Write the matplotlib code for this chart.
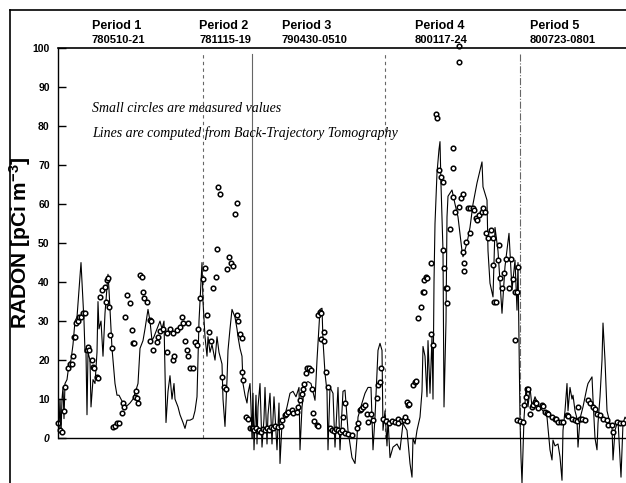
import matplotlib.pyplot as plt
from matplotlib.lines import Line2D

# time axis is an arbitrary sample index running through the five periods
line_t = [0, 1, 2, 3, 4, 5, 6, 7, 9, 11, 13, 15, 17, 19, 21, 23, 24, 26, 27, 28, 29, 30, 32, 33, 35, 37,
          39, 40, 41, 43, 45, 47, 50, 51, 54, 57, 59, 61, 63, 65, 67, 70, 72, 75, 77, 80, 82, 85, 87, 90,
          92, 94, 96, 99, 102, 104, 106, 108, 110, 112, 114, 116, 117, 120, 122, 125, 127, 129, 132, 135,
          137, 139, 141, 142, 144, 145,
          147, 149, 150, 152, 154, 157, 159, 161, 162, 164, 165, 167, 169, 170, 172, 174, 177, 179, 180,
          182, 184, 185, 187, 189, 190, 192, 193, 194,
          195, 196, 198, 199, 200, 202, 204, 206, 207, 209, 210, 212, 214, 215, 216, 219, 220, 221, 222,
          224, 226, 229, 232, 235, 238, 241, 242, 244, 247, 250, 253, 257, 259, 262, 264, 265, 267, 269,
          270, 272, 275, 277, 280, 282, 285, 287, 290, 294, 297, 299, 300, 304, 307, 310, 313, 315, 317,
          320, 322, 324, 325, 327,
          329, 330, 332, 335, 339, 342, 345, 349, 352, 354, 355, 357, 359, 362, 364, 365, 367, 369, 370,
          372, 374, 375, 376, 377, 379, 381, 382, 383, 385, 386, 388, 389, 390, 394, 397, 400, 404, 405,
          409, 412, 415, 419, 424, 425, 429, 430, 432, 435, 437, 440, 444, 447, 451, 454, 457, 459, 460,
          461, 462, 463, 464, 466,
          468, 470, 472, 474, 477, 481, 485, 489, 492, 494, 495, 497, 500, 502, 504, 505, 507, 509, 510,
          512, 514, 515, 517, 519, 520, 522, 525, 529, 530, 534, 535, 537, 539, 540, 542, 544, 545, 547,
          549, 552, 554, 555, 557, 560, 563, 565, 567, 568]
line_v = [10, 2, 10, 1, 10, 13, 5, 14, 15, 19, 20, 24, 30, 31, 38, 45, 40, 30, 22, 22, 6, 22, 20, 8, 15, 14,
          22, 35, 28, 30, 21, 32, 42, 38, 23, 14, 11, 11, 10, 9, 8, 8.5, 9, 10, 11.5, 14, 23, 25, 28, 33,
          30, 25, 26, 28, 30, 28, 30, 4, 12, 16, 10, 14, 10, 8, 6, 4, 2.5, 4.6, 4.6, 5,
          7, 10.6, 30, 35, 45, 35,
          26, 21, 26, 22, 24, 20, 26, 22, 21, 19, 10, 3, 15, 22.5, 28, 33, 31, 28, 26,
          23, 21, 14, 11, 9, 11.5, 14, 8, 0,
          11.5, -3, 11, -1.5, 8, 14, -2.3, 5, 13, -1.5, 6, 11.5, -1.5, 5, 10.6, -3, 3, 9, -6.5,
          3.8, 5, 8, 11.5, 12, 10.6, 13, -3, 8, 14, 14.5, 14, 9.7, 20, 33, 33.3, 25, 16.6, 12,
          -3, 13, 11.5, -2.3, 13, -3, 12, 12.3, 2, -5, -6.5, 0, 5.4, 9, 11.5, 13, 13, -3, 5.4,
          22.5, 24.3, 22.5, 2, 7,
          -2, 5, -5, -2.3, -1.5, -3, 3.8, 2, -6.5, -10, 0, -1.5, 2, 5.4, 12, 23.5, 21, 10.6, 25,
          11.5, 26, 10, 40, 55, 68, 74, 76, 65, 48, 8, 30, 56.7, 62, 63.6, 60, 56.7, 48, 46.5,
          50, 54, 60, 65.4, 70.8, 64.4, 61, 48, 39.7, 36.2, 54, 48, 32, 44, 52.5, 38, 45.6, 32.8, 45,
          25, 5, -5, -11.5, 5,
          13, 8, 13, 8, 10.6, 8, 7, 5.4, -3, -5.6, -0.5, -2, -1.5, -4.8, -10.8, 2, 7, 14, 7,
          13, 10, 11, 7, 5, -2.3, 5, 8, 13, 14, 15.7, 10, 0, -3, 3.8, 10.6, 20, 29.5, 20,
          7, 3.8, 3, -5.6, 2, 4.6, -10, 3.8, 5.4, 5]

meas_t = [0, 2, 4, 6, 7, 10, 12, 14, 15, 16, 17, 18, 20, 21, 23, 25, 27, 29, 30, 31, 34, 35, 36, 39, 40,
          42, 44, 47, 48, 49, 50, 51, 52, 54, 55, 57, 59, 61, 64, 65, 66, 67, 69, 72, 74, 75, 76, 77, 78,
          79, 80, 82, 84, 85, 86, 89, 92, 93, 92, 95, 99, 100, 102, 105, 109, 109, 112, 115, 115, 116,
          119, 122, 124, 125, 127, 129, 130, 130, 132, 135, 137, 139, 140,
          142, 145, 147, 149, 151, 153, 155, 158, 159, 160, 162, 164, 166, 168, 169, 171, 173, 175, 177,
          179, 179, 180, 182, 184, 184, 185, 188, 190, 192, 194,
          195, 196, 198, 200, 201, 203, 205, 207, 209, 211, 213, 215, 217, 220, 223, 224, 227, 228, 230,
          234, 235, 239, 240, 242, 244, 245, 246, 248, 249, 251, 253, 254, 255, 256, 259, 260, 260, 262,
          263, 266, 263, 266, 268, 270, 272, 274, 276, 278, 280, 282, 284, 285, 287, 287, 290, 294, 299,
          300, 302, 303, 305, 307, 309, 310, 313, 315, 319, 320, 322, 323,
          325, 328, 331, 334, 337, 340, 343, 346, 349, 340, 347, 349, 350, 351, 355, 357, 358, 360, 363,
          365, 366, 366, 368, 369, 373, 373, 375, 378, 379, 381, 383, 385, 385, 386, 388, 389, 389, 392,
          395, 395, 397, 395, 401, 401, 401, 403, 405, 405, 406, 406, 408, 410, 412, 412, 415, 416, 418,
          419, 421, 424, 425, 427, 428, 430, 433, 435, 435, 436, 438, 440, 441, 442, 444, 446, 448, 451,
          453, 455, 457, 459, 460, 457, 459, 462, 465,
          466, 468, 469, 470, 472, 474, 475, 477, 478, 480, 484, 485, 487, 489, 490, 494, 497, 498, 500,
          503, 505, 509, 510, 514, 517, 519, 520, 522, 524, 527, 530, 532, 535, 537, 539, 542, 545, 549,
          550, 554, 555, 559, 562, 565]
meas_v = [4, 2, 1.5, 7, 13, 18, 19, 19, 21, 26, 26, 29.5, 30, 31, 31, 32, 32, 22.6, 23.4, 22.5, 20, 18.3,
          18, 15.7, 15.5, 36.2, 38, 38.8, 35, 40.5, 41, 33.7, 26.4, 23, 2.9, 3.2, 3.8, 3.8, 6.4, 9, 8, 31,
          36.7, 34.6, 27.7, 24.3, 24.5, 10.6, 12, 10.2, 9, 41.8, 41.4, 37.5, 36, 35, 30.3, 30, 25, 22.6,
          24.7, 26, 27.5, 28, 27, 22, 28, 27, 20, 21, 27.7, 28.5, 31, 29.4, 25, 22.6, 29.5, 21, 18, 18,
          24.7, 23.8, 28,
          36, 40.7, 43.6, 31.5, 27.3, 25, 38.6, 41.4, 48.4, 64.4, 62.5, 15.7, 13, 12.5, 43.3, 46.5, 45,
          44, 57.4, 60.2, 31.5, 30, 26.7, 25.6, 17, 14.9, 5.5, 5, 2.6, 2.6,
          2.5, 2.0, 2.5, 1.8, 2.2, 1.6, 2.4, 2.0, 2.6, 2.2, 2.8, 2.5, 3, 2.8, 3.2, 4.6, 5.9, 6.2, 6.8,
          7.2, 6.5, 6.8, 8, 9.7, 11.4, 12.7, 14, 16.7, 17.9, 18, 17.5, 12.7, 6.5, 4.4, 3.3, 3.1, 31.5,
          32.4, 32, 27.3, 25.3, 25, 17, 13.2, 2.5, 2, 1.8, 2.4, 2.0, 1.6, 2.2, 5.5, 8.9, 1.2, 1.0, 0.8,
          2.5, 4, 7.2, 7.4, 8, 8.5, 6.3, 4.2, 6.3, 4.6, 10.2, 13.6, 14.4, 17.9,
          5, 4.5, 4, 4.5, 4.2, 4.8, 4.3, 4.6, 4.5, 3.8, 5.5, 9.3, 8.5, 8.8, 13.6, 14.4, 14.6, 30.7, 33.7,
          37.5, 37.5, 40.5, 41.4, 41, 45, 26.8, 23.8, 83.2, 82, 68.7, 67, 65.6, 48.2, 43.5, 38.4, 38.4,
          34.7, 53.5, 61.9, 69.2, 58, 74.3, 59.3, 96.5, 100.5, 61.5, 62.5, 47.8, 42.9, 45, 50.3, 58.9,
          52.6, 58.9, 58.9, 58.5, 56.3, 56, 57.2, 58, 58.9, 58, 52.6, 51.2, 53.3, 51.2, 44.4, 35, 35,
          45.6, 49.5, 41.1, 38.6, 42.4, 45.8, 38.6, 46, 40.9, 37.5, 37.5, 43.8, 25.1, 4.6, 4.4, 4.2,
          8.5, 10.6, 12.7, 12.5, 6.3, 8, 8.5, 9.3, 9, 7.6, 8.5, 8.2, 6.7, 6.5, 6.3, 5.5, 5, 4.8, 4.2,
          4.2, 4.2, 5.9, 5.7, 5, 4.6, 4.4, 8, 5, 4.8, 4.6, 9.9, 9, 8, 7.5, 6.3, 5.9, 5, 4.6, 3.3, 3.3,
          1.6, 4.2, 3.8, 3.8]

period_names = ["Period 1", "Period 2", "Period 3", "Period 4", "Period 5"]
period_dates = ["780510-21", "781115-19", "790430-0510", "800117-24", "800723-0801"]
period_label_t = [34, 141, 224, 357, 472]
period_bounds = [145, 194, 327, 462]
bound_styles = [(0, (3, 3)), "-", (0, (3, 3)), "-."]

plt.rcParams["mathtext.fontset"] = "custom"
plt.rcParams["mathtext.rm"] = "Liberation Sans:bold"
plt.rcParams["mathtext.default"] = "rm"

fig = plt.figure(figsize=(6.26, 4.83), dpi=100)
ax = fig.add_axes([58 / 626, 0, 568 / 626, 435 / 483])

# period separators
for b, ls in zip(period_bounds, bound_styles):
    ax.plot([b, b], [0, 98.5], color="0.4", lw=0.8, ls=ls)

ax.axhline(0, color="black", lw=1.0)
ax.plot(line_t, line_v, color="black", lw=0.8)
ax.plot(meas_t, meas_v, "o", ms=3.3, mfc="white", mec="black", mew=1.1, clip_on=False)

ax.set_xlim(0, 568)
ax.set_ylim(-11.5, 100)
ax.set_xticks([])
ax.set_yticks(range(0, 101, 10))
ax.set_yticklabels([str(v) for v in range(0, 101, 10)], fontsize=7.5, fontweight="bold",
                   family="Liberation Sans")
ax.get_yticklabels()[0].set_style("italic")
ax.tick_params(axis="y", direction="in", length=6, width=1, pad=6)
ax.spines["right"].set_visible(False)
ax.spines["bottom"].set_visible(False)
ax.spines["left"].set_bounds(0, 100)
ax.spines["left"].set_linewidth(1.0)
ax.spines["top"].set_linewidth(1.2)

for name, date, t in zip(period_names, period_dates, period_label_t):
    ax.text(t, 104.8, name, fontsize=9, fontweight="bold", family="Liberation Sans", va="baseline")
    ax.text(t, 101.2, date, fontsize=8, fontweight="bold", family="Liberation Sans", va="baseline")

ax.text(34, 84.6, "Small circles are measured values", fontsize=10, style="italic",
        family="Liberation Serif", va="center")
ax.text(34, 78.2, "Lines are computed from Back-Trajectory Tomography", fontsize=10, style="italic",
        family="Liberation Serif", va="center")

fig.text(20 / 626, 1 - 243 / 483, "RADON [pCi m$^{-3}$]", rotation=90, ha="center", va="center",
         fontsize=15, fontweight="bold", family="Liberation Sans")

# outer frame
fig.add_artist(Line2D([10 / 626, 10 / 626], [0, 1 - 10 / 483], color="black", lw=1.2))
fig.add_artist(Line2D([10 / 626, 1], [1 - 10 / 483, 1 - 10 / 483], color="black", lw=1.2))

fig.savefig("out.png", dpi=100)
